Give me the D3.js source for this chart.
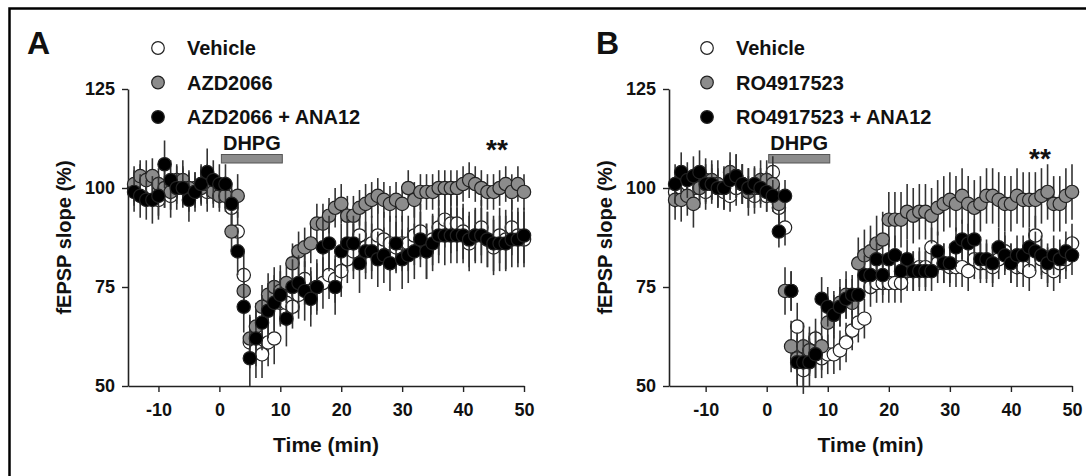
<!DOCTYPE html>
<html>
<head>
<meta charset="UTF-8">
<title></title>
<style type="text/css">
	body { margin: 0; background: #fff; }
	svg text { font-family: "Liberation Sans", Arial, sans-serif; font-weight: bold; fill: #111; }
</style>
</head>
<body>
<svg class="fig"></svg>
<script src="https://cdn.jsdelivr.net/npm/d3@7/dist/d3.min.js" type="text/javascript" charset="utf-8"></script>
<script type="text/javascript">
// time points (min)
var timesA = [-14,-13,-12,-11,-10,-9,-8,-7,-6,-5,-4,-3,-2,-1,0,1,2,3,4,5,6,7,8,9,10,11,12,13,14,15,16,17,18,19,20,21,22,23,24,25,26,27,28,29,30,31,32,33,34,35,36,37,38,39,40,41,42,43,44,45,46,47,48,49,50];
var timesB = [-15,-14,-13,-12,-11,-10,-9,-8,-7,-6,-5,-4,-3,-2,-1,0,1,2,3,4,5,6,7,8,9,10,11,12,13,14,15,16,17,18,19,20,21,22,23,24,25,26,27,28,29,30,31,32,33,34,35,36,37,38,39,40,41,42,43,44,45,46,47,48,49,50];

var namesA = ["Vehicle", "AZD2066", "AZD2066 + ANA12"];
var namesB = ["Vehicle", "RO4917523", "RO4917523 + ANA12"];

// panel A, fEPSP slope (%)
var vehA = [100,101,100,100,97,99,98,100,101,99,100,101,99,100,99,
	99,95,89,78,61,59,58,61,62,71,71,70,73,77,74,75,76,78,77,79,82,84,88,85,86,88,87,86,85,86,86,88,89,84,87,90,92,91,91,89,86,88,90,87,85,88,87,90,88,87];
var azd = [101,103,102,103,101,100,99,102,102,100,99,100,101,99,98,
	98,89,98,74,62,65,70,73,75,74,76,81,84,85,86,91,91,93,95,96,93,93,95,96,97,98,97,96,97,96,100,97,99,99,99,100,100,100,100,101,102,101,100,99,99,100,101,99,101,99];
var azdAna = [99,98,97,97,98,106,102,100,100,97,99,101,104,102,101,
	101,96,84,70,57,62,66,69,71,73,67,75,76,74,72,75,85,86,75,84,86,86,81,84,84,82,83,81,86,82,83,84,87,84,86,88,88,88,88,88,87,88,88,87,86,86,86,87,87,88];

var semVehA = [4.5,5,4,4.5,5,4,5.5,4,4.5,5,4,4.5,5,4,4,
	4,4.5,5,6,6.5,7,6,6,6.5,6,6,5.5,6,6.5,6,6,6.5,6,6,6.5,6,7,7,6.5,7,7.5,7,7,6.5,7,7,7.5,7,7,6.5,7,7,7.5,7,7,7,6.5,7,7,7,7,7.5,7,7,7];
var semAzd = [4.5,4,5,4.5,4,5,4.5,4,5,4.5,4,4.5,5,4,4,
	4,5,5.5,6,6,6,5.5,5.5,5,5,5,5,5,5,5,5,5,4.5,5,5,5,5,4.5,5,4.5,4.5,4.5,4.5,4.5,4.5,4.5,4.5,4.5,4.5,4.5,4.5,4.5,4.5,4.5,4.5,4.5,4.5,4.5,4.5,4.5,4.5,4.5,4.5,4.5,4.5];
var semAzdAna = [5,5.5,5,6,5,6,5,5.5,5,5.5,5,5,6,5,5,
	5,5.5,6,6.5,7,7,7,7,7,7.5,7,7,7,7.5,7,7,7.5,7,7,7,7,7,7.5,7,7,7,7,7,7,7.5,7,7,7,7,7,7,7.5,7,7,7,7,7,7,7,7,7,7,7,7,7];

// panel B, fEPSP slope (%)
var vehB = [99,100,101,100,100,99,101,100,99,98,100,101,99,98,100,98,
	104,95,90,74,65,54,58,62,57,58,58,59,61,64,66,67,75,76,76,76,76,76,79,79,80,80,85,81,81,80,80,80,79,82,81,81,80,82,84,81,80,80,79,88,82,80,79,81,82,86];
var ro = [97,97,98,96,100,102,102,101,100,104,103,101,99,100,102,102,
	101,96,74,60,57,60,59,58,60,66,68,71,73,71,81,83,84,86,87,92,92,92,94,93,94,94,93,95,96,97,96,98,96,95,96,98,98,97,96,96,98,97,97,97,98,99,96,96,98,99];
var roAna = [101,104,102,103,104,101,101,100,100,102,103,101,100,101,100,99,
	98,89,98,74,56,56,56,58,72,70,68,70,72,73,73,78,78,82,78,82,83,79,82,79,79,79,79,84,81,81,85,87,86,87,82,82,81,85,83,81,83,83,85,84,83,81,83,82,84,83];

var semVehB = [4,4.5,4,5,4,4.5,4,5,4.5,4,4.5,5,4,4.5,4,4,
	4,4,4.5,5,6,6,5.5,5,5,5,5,5,5,5,5,5,5,5,5,5,5,5,5,5,5,5,5,5,5,5,5,5,5,5,5,5,5,5,5,5,5,5,5,5,5,5,5,5,5,5];
var semRo = [5,5.5,5,6,5,5.5,5,6,5.5,5,5.5,5,6,5,5,5,
	5,5,6,6.5,6.5,6,6,6,6,6,6,6,6,6,6.5,6.5,6.5,7,7,7,7,7,7,7,7,7,7,7,7,7,7,7,7,7,7,7,7,7,7,7,7,7,7,7,7,7,7,7,7,7];
var semRoAna = [5,5,4.5,5,5.5,5,5,4.5,5,5,5.5,5,5,4.5,5,5,
	4,4,4,5,6,6,6,6,5.5,5,5,5,5,5,5,5,5,5,5,5,5,5,5,5,5,5,5,5,5,5,5,5,5,5,5,5,5,5,5,5,5,5,5,5,5,5,5,5,5,5];

var yTicks = [50, 75, 100, 125];
var xTicks = [-10, 0, 10, 20, 30, 40, 50];
var dhpg = [0, 10];

var width = 1086, height = 476;
var fills = ["#fff", "#8c8c8c", "#000"];

var svg = d3.select(".fig").attr("width", width).attr("height", height);

// frame
svg.append("rect")
	.attr("x", 9.5).attr("y", 8.5)
	.attr("width", 1200).attr("height", 600)
	.attr("fill", "none").attr("stroke", "#000").attr("stroke-width", 2.5);

var panels = [
	{letter: "A", letterX: 27, names: namesA, times: timesA, data: [vehA, azd, azdAna], sem: [semVehA, semAzd, semAzdAna],
		xDomain: [-15, 50], left: 128, right: 524, legendX: 158, starX: 497, starY: 159},
	{letter: "B", letterX: 596, names: namesB, times: timesB, data: [vehB, ro, roAna], sem: [semVehB, semRo, semRoAna],
		xDomain: [-16, 50], left: 669, right: 1072, legendX: 707, starX: 1040, starY: 168}
];

var plotTop = 89, plotBottom = 386;

panels.forEach(function(p) {
	var g = svg.append("g");
	var x = d3.scaleLinear().domain(p.xDomain).range([p.left, p.right]);
	var y = d3.scaleLinear().domain([50, 125]).range([plotBottom, plotTop]);

	g.append("text").attr("x", p.letterX).attr("y", 54)
		.style("font-size", "32px").text(p.letter);

	// legend
	var leg = g.append("g");
	p.names.forEach(function(n, i) {
		var ly = 48 + i * 34.5;
		leg.append("circle").attr("cx", p.legendX).attr("cy", ly).attr("r", 6.3)
			.attr("fill", fills[i]).attr("stroke", "#222").attr("stroke-width", 1.2);
		leg.append("text").attr("x", p.legendX + 29).attr("y", ly).attr("dy", "0.36em")
			.style("font-size", "20px").text(n);
	});

	// axes
	var ya = g.append("g").attr("transform", "translate(" + p.left + ",0)")
		.call(d3.axisLeft(y).tickValues(yTicks).tickSize(6).tickSizeOuter(0).tickPadding(7));
	var xa = g.append("g").attr("transform", "translate(0," + plotBottom + ")")
		.call(d3.axisBottom(x).tickValues(xTicks).tickSize(6).tickSizeOuter(0).tickPadding(11)
			.tickFormat(function(d) { return String(d); }));
	[ya, xa].forEach(function(a) {
		a.select(".domain").attr("stroke", "#222").attr("stroke-width", 1.6);
		a.selectAll(".tick line").attr("stroke", "#222").attr("stroke-width", 1.4);
		a.selectAll(".tick text").attr("fill", "#111")
			.style("font-family", "'Liberation Sans', Arial, sans-serif")
			.style("font-weight", "bold").style("font-size", "18px");
	});

	g.append("text").attr("text-anchor", "middle")
		.attr("transform", "translate(" + (p.left - 64) + "," + ((plotTop + plotBottom) / 2) + ") rotate(-90)")
		.attr("dy", "0.36em").style("font-size", "20px").text("fEPSP slope (%)");
	g.append("text").attr("text-anchor", "middle")
		.attr("x", (p.left + p.right) / 2).attr("y", 452)
		.style("font-size", "21px").text("Time (min)");

	// DHPG bar
	g.append("rect").attr("x", x(dhpg[0]) + 2).attr("y", 154.5)
		.attr("width", x(dhpg[1]) - x(dhpg[0])).attr("height", 8.5)
		.attr("fill", "#8c8c8c").attr("stroke", "#555").attr("stroke-width", 1);
	g.append("text").attr("text-anchor", "middle")
		.attr("x", (x(dhpg[0]) + x(dhpg[1])) / 2 + 2).attr("y", 150)
		.style("font-size", "20px").text("DHPG");

	g.append("text").attr("text-anchor", "middle")
		.attr("x", p.starX).attr("y", p.starY)
		.style("font-size", "28px").text("**");

	// series: error bars then symbols
	p.data.forEach(function(vals, si) {
		var pts = vals.map(function(v, i) { return {t: p.times[i], v: v, e: p.sem[si][i]}; });
		var sg = g.append("g");
		sg.selectAll("line").data(pts).enter().append("line")
			.attr("x1", function(d) { return x(d.t); })
			.attr("x2", function(d) { return x(d.t); })
			.attr("y1", function(d) { return y(d.v - d.e); })
			.attr("y2", function(d) { return y(d.v + d.e); })
			.attr("stroke", "#333").attr("stroke-width", 1.6);
		sg.selectAll("circle").data(pts).enter().append("circle")
			.attr("cx", function(d) { return x(d.t); })
			.attr("cy", function(d) { return y(d.v); })
			.attr("r", 6.7)
			.attr("fill", fills[si]).attr("stroke", "#222").attr("stroke-width", 1.2);
	});
});
</script>
</body>
</html>
